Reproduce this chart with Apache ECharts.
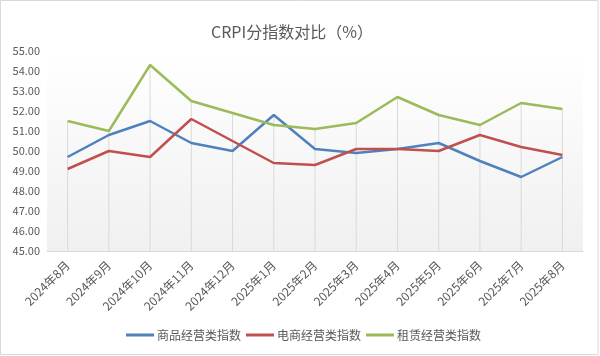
<!DOCTYPE html>
<html><head><meta charset="utf-8">
<script src="https://cdn.jsdelivr.net/npm/echarts@6/dist/echarts.min.js"></script>
<style>html,body{margin:0;padding:0;background:#fff}#c{width:600px;height:356px}</style>
</head><body><div id="c"></div>
<script>
var categories = ['2024年8月','2024年9月','2024年10月','2024年11月','2024年12月','2025年1月','2025年2月','2025年3月','2025年4月','2025年5月','2025年6月','2025年7月','2025年8月'];
var goodsIndex = [49.7, 50.8, 51.5, 50.4, 50.0, 51.8, 50.1, 49.9, 50.1, 50.4, 49.5, 48.7, 49.7];
var ecomIndex  = [49.1, 50.0, 49.7, 51.6, 50.5, 49.4, 49.3, 50.1, 50.1, 50.0, 50.8, 50.2, 49.8];
var rentIndex  = [51.5, 51.0, 54.3, 52.5, 51.9, 51.3, 51.1, 51.4, 52.7, 51.8, 51.3, 52.4, 52.1];
var seriesNames = ['商品经营类指数','电商经营类指数','租赁经营类指数'];
var yTicks = [45, 55, 1];

var dropLines = categories.map(function(_, i){ return Math.max(goodsIndex[i], ecomIndex[i], rentIndex[i]); });
var font = '"Microsoft YaHei","Noto Sans CJK SC",sans-serif';
var chart = echarts.init(document.getElementById('c'), null, {renderer:'canvas'});
function lineSeries(name, data, color){
  return {name:name, type:'line', data:data, symbol:'none', z:3,
    lineStyle:{color:color, width:2.5}, itemStyle:{color:color}};
}
chart.setOption({
  animation:false,
  title:{text:'CRPI分指数对比（%）', left:206, top:19,
    textStyle:{color:'#595959', fontSize:16, fontWeight:'normal', fontFamily:font}},
  graphic:[{type:'rect', shape:{x:0.5,y:0.5,width:597.5,height:354}, style:{fill:'none', stroke:'#d9d9d9', lineWidth:1}, silent:true}],
  grid:{left:47, right:17, top:51, bottom:105, show:true, borderWidth:0,
    backgroundColor:{type:'linear', x:0, y:0, x2:0, y2:1, colorStops:[{offset:0,color:'#ffffff'},{offset:1,color:'#f0f0f0'}]}},
  legend:{data:seriesNames, bottom:10, left:121, icon:'rect', itemWidth:28, itemHeight:3, itemGap:5,
    textStyle:{color:'#595959', fontSize:12, fontFamily:font, padding:[0,0,0,-2]}},
  xAxis:{type:'category', data:categories, boundaryGap:true,
    axisLine:{lineStyle:{color:'#d9d9d9'}}, axisTick:{length:4, lineStyle:{color:'#d9d9d9'}},
    axisLabel:{rotate:45, color:'#595959', fontSize:12, fontFamily:font, margin:12, interval:0},
    splitLine:{show:false}},
  yAxis:{type:'value', min:yTicks[0], max:yTicks[1], interval:yTicks[2],
    axisLine:{show:false}, axisTick:{show:false}, splitLine:{show:false},
    axisLabel:{color:'#595959', fontSize:11, fontFamily:font, margin:7,
      formatter:function(v){return v.toFixed(2);}}},
  series:[
    {name:'drop', type:'bar', data:dropLines, barWidth:1, z:1, silent:true,
      itemStyle:{color:'#d9d9d9'}},
    lineSeries(seriesNames[0], goodsIndex, '#4f81bd'),
    lineSeries(seriesNames[1], ecomIndex, '#c0504d'),
    lineSeries(seriesNames[2], rentIndex, '#9bbb59')
  ]
});
</script></body></html>
